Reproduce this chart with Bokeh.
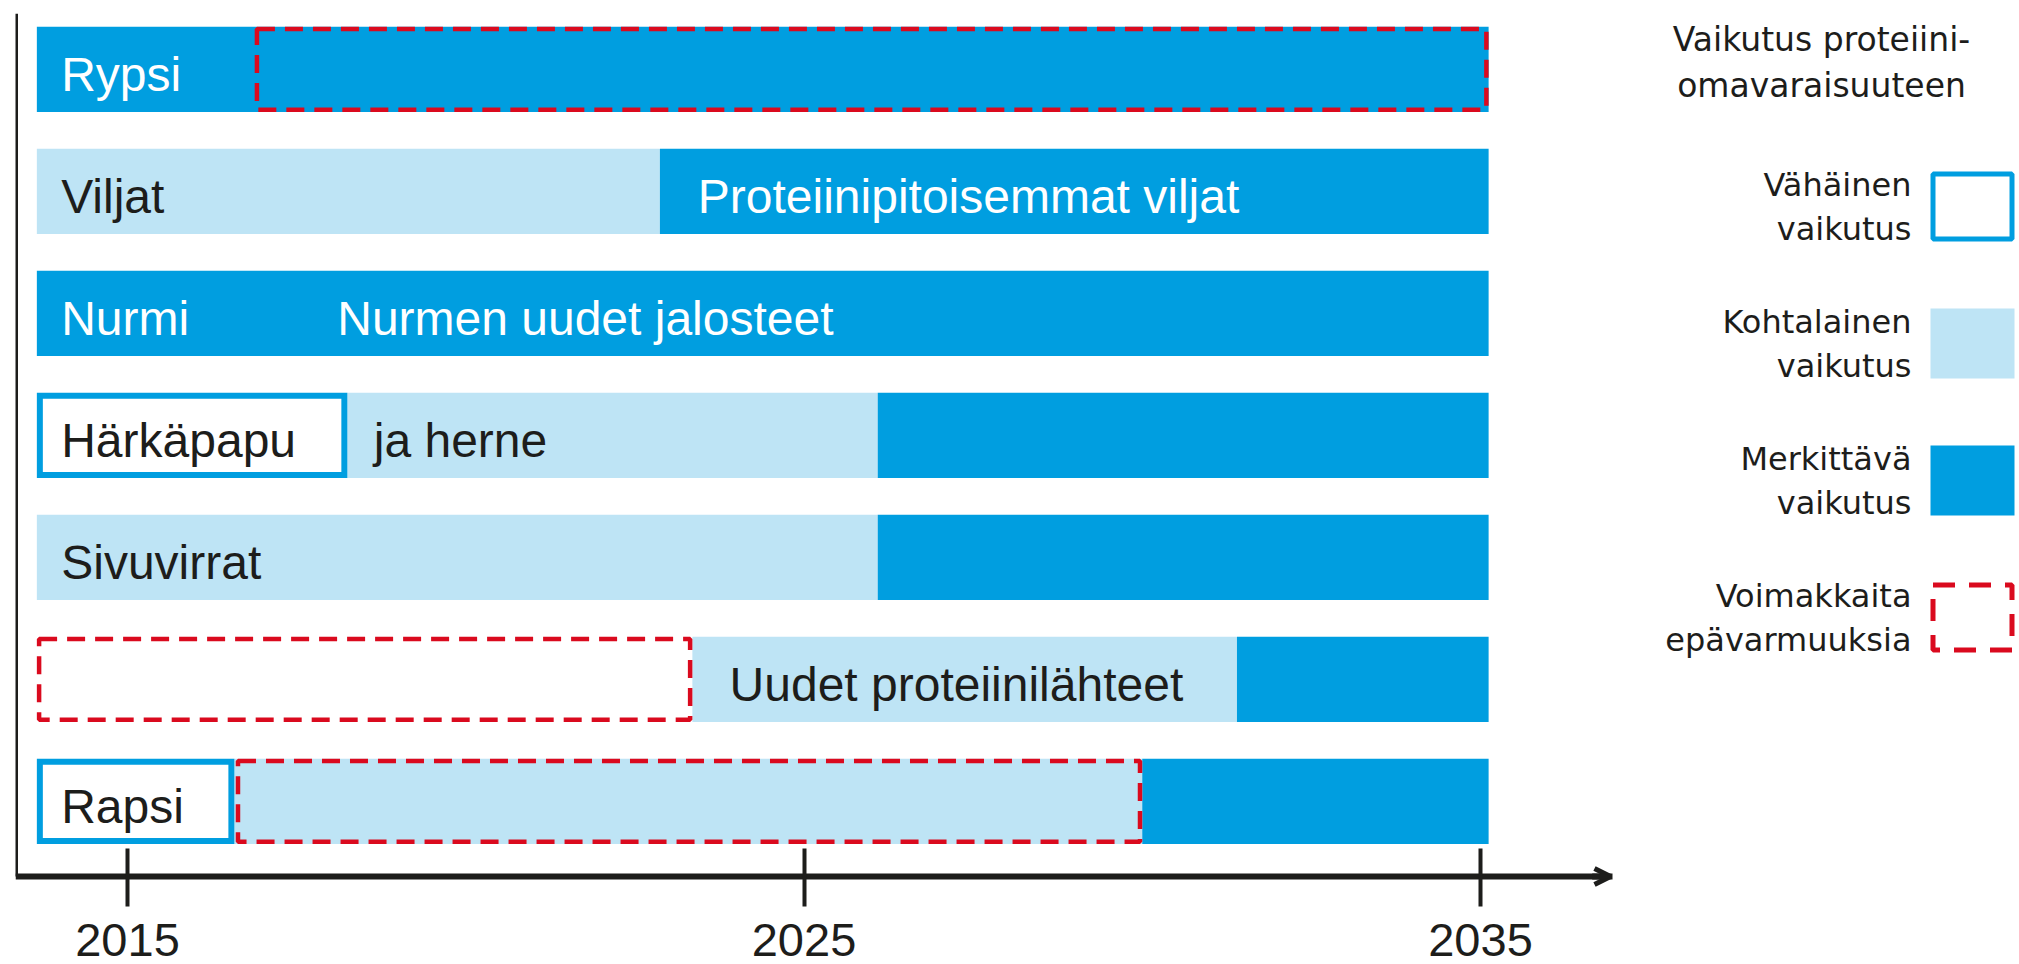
from bokeh.plotting import figure
from bokeh.models import Range1d, FixedTicker, Arrow, OpenHead, ColumnDataSource
from bokeh.core.properties import value
from bokeh.embed import file_html
from bokeh.resources import INLINE

# ---------------- data ----------------
rows = ["Rypsi", "Viljat", "Nurmi", "Härkäpapu", "Sivuvirrat",
        "Uudet proteiinilähteet", "Rapsi"]

# bar segments: row index, start year, end year, impact level
seg_row = [0, 1, 1, 2, 3, 3, 3, 4, 4, 5, 5, 6, 6, 6]
seg_start = [2013.66, 2013.66, 2022.87, 2013.66, 2013.66, 2018.25, 2026.09,
             2013.66, 2026.09, 2023.35, 2031.40, 2013.66, 2016.58, 2030.00]
seg_end = [2035.12, 2022.87, 2035.12, 2035.12, 2018.25, 2026.09, 2035.12,
           2026.09, 2035.12, 2031.40, 2035.12, 2016.58, 2030.00, 2035.12]
seg_level = ["sig", "mod", "sig", "sig", "low", "mod", "sig",
             "mod", "sig", "mod", "sig", "low", "mod", "sig"]

# strong uncertainty periods
unc_row = [0, 5, 6]
unc_start = [2016.88, 2013.66, 2016.60]
unc_end = [2035.12, 2023.35, 2030.00]

# texts inside the bars
label_row = [0, 1, 1, 2, 2, 3, 3, 4, 5, 6]
label_year = [2014.02, 2014.02, 2023.43, 2014.02, 2018.10, 2014.02, 2018.64,
              2014.02, 2023.90, 2014.02]
label_text = ["Rypsi", "Viljat", "Proteiinipitoisemmat viljat", "Nurmi",
              "Nurmen uudet jalosteet", "Härkäpapu", "ja herne", "Sivuvirrat",
              "Uudet proteiinilähteet", "Rapsi"]
label_on_dark = [True, False, True, True, True, False, False, False, False, False]

tick_years = [2015, 2025, 2035]

legend_title = ["Vaikutus proteiini-", "omavaraisuuteen"]
legend_lines = [["Vähäinen", "vaikutus"], ["Kohtalainen", "vaikutus"],
                ["Merkittävä", "vaikutus"], ["Voimakkaita", "epävarmuuksia"]]

# ---------------- layout / styles ----------------
BLUE = "#009EE0"
LIGHT = "#BEE4F5"
RED = "#DA0A1E"
DARK = "#1d1d1b"
level_color = {"sig": BLUE, "mod": LIGHT, "low": "white"}

W, H = 2019, 964
BL, BT = 15, 13                    # left / top border (px)
FL, FT = BL, BT                    # frame origin in page px
FW, FH = W - BL, H - BT
PX_X = 67.65                       # px per year
PX_Y = 122.0                       # px per row
X0 = 2015 - (127 - FL) / PX_X
X1 = X0 + FW / PX_X
Y1 = 6.458
Y0 = Y1 - FH / PX_Y
AXIS_Y = Y1 - (876 - FT) / PX_Y    # time axis position
ARROW_X = X0 + (1612 - FL) / PX_X  # arrow tip
BAR_H = 0.697
n = len(rows)


def ypos(i):
    return n - 1 - i


def gx(px):
    return X0 + (px - FL) / PX_X


def gy(py):
    return Y1 - (py - FT) / PX_Y


p = figure(width=W, height=H, x_range=Range1d(X0, X1), y_range=Range1d(Y0, Y1),
           output_backend="svg", toolbar_location=None,
           min_border_left=BL, min_border_right=0, min_border_top=BT,
           min_border_bottom=0)
p.grid.visible = False
p.outline_line_color = None
p.background_fill_color = "white"

xa = p.xaxis[0]
xa.fixed_location = AXIS_Y
xa.bounds = (X0, ARROW_X)
xa.ticker = FixedTicker(ticks=tick_years)
xa.axis_line_width = 6
xa.axis_line_color = DARK
xa.major_tick_line_width = 4
xa.major_tick_line_color = DARK
xa.major_tick_in = 28
xa.major_tick_out = 30
xa.minor_tick_in = 0
xa.minor_tick_out = 0
xa.major_label_standoff = 17
xa.major_label_text_font = "Liberation Sans"
xa.major_label_text_font_size = "47px"
xa.major_label_text_color = DARK

ya = p.yaxis[0]
ya.fixed_location = X0
ya.bounds = (AXIS_Y, Y1)
ya.ticker = FixedTicker(ticks=[])
ya.axis_line_width = 5
ya.axis_line_color = DARK
ya.major_tick_in = 0
ya.major_tick_out = 0
ya.minor_tick_in = 0
ya.minor_tick_out = 0
ya.major_label_text_font_size = "0px"

# filled segments (moderate / significant)
fill_idx = [k for k in range(len(seg_row)) if seg_level[k] in ("sig", "mod")]
src = ColumnDataSource(dict(
    y=[ypos(seg_row[k]) for k in fill_idx],
    left=[seg_start[k] for k in fill_idx],
    right=[seg_end[k] for k in fill_idx],
    color=[level_color[seg_level[k]] for k in fill_idx],
))
p.hbar(y="y", left="left", right="right", height=BAR_H, fill_color="color",
       line_color=None, source=src)

# small-impact segments: white box with blue border
bw = 6
low_idx = [k for k in range(len(seg_row)) if seg_level[k] == "low"]
src_low = ColumnDataSource(dict(
    left=[seg_start[k] + bw / 2 / PX_X for k in low_idx],
    right=[seg_end[k] - bw / 2 / PX_X for k in low_idx],
    top=[ypos(seg_row[k]) + BAR_H / 2 - bw / 2 / PX_Y for k in low_idx],
    bottom=[ypos(seg_row[k]) - BAR_H / 2 + bw / 2 / PX_Y for k in low_idx],
))
p.quad(left="left", right="right", top="top", bottom="bottom", source=src_low,
       fill_color="white", line_color=BLUE, line_width=bw, line_join="miter")

# uncertainty boxes
dw = 4.5
src_unc = ColumnDataSource(dict(
    left=[s + dw / 2 / PX_X for s in unc_start],
    right=[e - dw / 2 / PX_X for e in unc_end],
    top=[ypos(r) + BAR_H / 2 - dw / 2 / PX_Y for r in unc_row],
    bottom=[ypos(r) - BAR_H / 2 + dw / 2 / PX_Y for r in unc_row],
))
p.quad(left="left", right="right", top="top", bottom="bottom", source=src_unc,
       fill_color=None, line_color=RED, line_width=dw, line_dash="18 10")

# in-bar labels
src_lab = ColumnDataSource(dict(
    x=label_year,
    y=[ypos(r) for r in label_row],
    text=label_text,
    color=["white" if d else DARK for d in label_on_dark],
))
p.text(x="x", y="y", text="text", source=src_lab, text_color="color",
       text_font=value("Liberation Sans"), text_font_size="48px",
       text_baseline="middle", text_align="left", y_offset=5)

# arrow head at end of time axis
p.add_layout(Arrow(end=OpenHead(size=16, line_width=5, line_color=DARK),
                   x_start=ARROW_X - 0.3, x_end=ARROW_X - 2 / PX_X,
                   y_start=AXIS_Y, y_end=AXIS_Y, line_width=6, line_color=DARK))

# ---------------- legend ----------------
LFONT = value("DejaVu Sans")
p.text(x=[gx(1821)] * 2, y=[gy(38.5), gy(84.5)], text=legend_title,
       text_font=LFONT, text_font_size="33px", text_color=DARK,
       text_align="center", text_baseline="middle")

lx, ly, ltxt = [], [], []
for k, pair in enumerate(legend_lines):
    c = 184 + 137 * k
    lx += [gx(1911), gx(1911)]
    ly += [gy(c), gy(c + 44)]
    ltxt += pair
p.text(x=lx, y=ly, text=ltxt, text_font=LFONT, text_font_size="32px",
       text_color=DARK, text_align="right", text_baseline="middle")

bx0, bx1 = 1930, 2014
centers = [206 + 137 * k for k in range(4)]
hb = 35
ins = 2.5
p.quad(left=[gx(bx0 + ins)], right=[gx(bx1 - ins)],
       top=[gy(centers[0] - hb + ins)], bottom=[gy(centers[0] + hb - ins)],
       fill_color="white", line_color=BLUE, line_width=5)
p.quad(left=[gx(bx0)], right=[gx(bx1)], top=[gy(centers[1] - hb)],
       bottom=[gy(centers[1] + hb)], fill_color=LIGHT, line_color=None)
p.quad(left=[gx(bx0)], right=[gx(bx1)], top=[gy(centers[2] - hb)],
       bottom=[gy(centers[2] + hb)], fill_color=BLUE, line_color=None)
p.quad(left=[gx(bx0 + ins)], right=[gx(bx1 - ins)],
       top=[gy(centers[3] - hb + ins)], bottom=[gy(centers[3] + hb - ins)],
       fill_color=None, line_color=RED, line_width=5, line_dash="22 14")

open("out.html", "w").write(file_html(p, INLINE))
